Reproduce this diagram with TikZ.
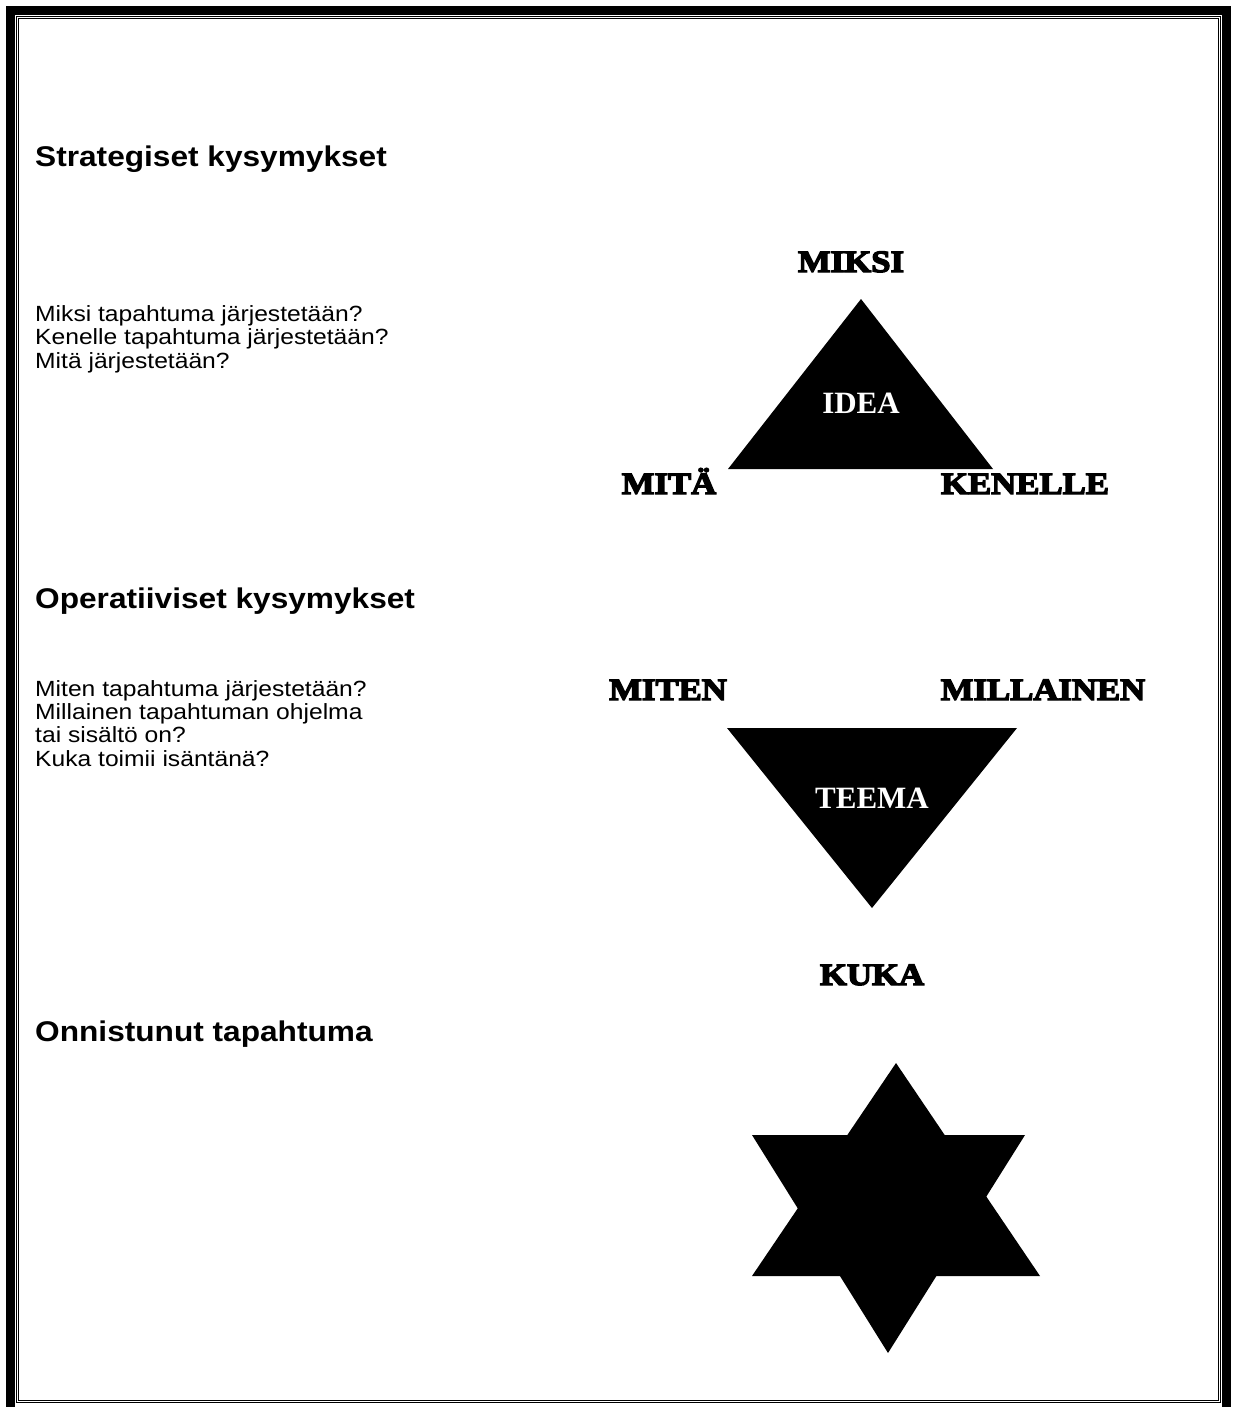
\documentclass[tikz,border=0pt]{standalone}
\usepackage{fontspec}
\setmainfont{Liberation Sans}[FakeStretch=1.11]
\newfontfamily\bodyface{Liberation Sans}[FakeStretch=1.12]
\newfontfamily\fatface{Liberation Serif}[FakeStretch=1.12,BoldFeatures={FakeBold=4.5}]
\newfontfamily\plainserif{Liberation Serif}
\usepackage{tikz}
\usetikzlibrary{positioning}
\tikzset{
  heading/.style={anchor=base west, inner sep=0pt,
    font=\fontsize{28.5}{31}\selectfont\bfseries},
  questions/.style={anchor=base west, inner sep=0pt, align=left,
    font=\fontsize{22}{23.3}\selectfont\bodyface},
  corner/.style={anchor=base, inner sep=0pt,
    font=\fontsize{31}{34}\selectfont\fatface\bfseries},
  core/.style={anchor=base, inner sep=0pt, text=white,
    font=\fontsize{31}{34}\selectfont\plainserif\bfseries},
  shape fill/.style={fill=black},
}
\begin{document}
\begin{tikzpicture}[x=1pt, y=-1pt]
    \useasboundingbox (0,0) rectangle (1237,1407);
    % page border
    \draw[line width=9pt] (10.5,11) rectangle (1226.5,1420);
    \draw[line width=1pt] (16.5,16.5) rectangle (1220.5,1402.5);
    \draw[line width=1pt] (18.5,18.5) rectangle (1218.5,1400.5);

    % left column (questions: anchored at last line)
    \node[heading] (strat) at (35,167) {Strategiset kysymykset};
    \node[questions] (stratq) at (35,368) {Miksi tapahtuma järjestetään?\\
      Kenelle tapahtuma järjestetään?\\ Mitä järjestetään?};
    \node[heading] (oper) at (35,608) {Operatiiviset kysymykset};
    \node[questions] (operq) at (35,766) {Miten tapahtuma järjestetään?\\
      Millainen tapahtuman ohjelma\\ tai sisältö on?\\ Kuka toimii isäntänä?};
    \node[heading] (onni) at (35,1041) {Onnistunut tapahtuma};

    % idea triangle
    \coordinate (ideatop) at (861,299);
    \coordinate (idealeft) at (728,469);
    \coordinate (idearight) at (993,469);
    \fill[shape fill] (ideatop) -- (idearight) -- (idealeft) -- cycle;
    \node[core] (idea) at (861,413) {IDEA};
    \node[corner] (miksi) at (851,272) {MIKSI};
    \node[corner] (mita) at (669,494) {MITÄ};
    \node[corner] (kenelle) at (1025,494) {KENELLE};

    % teema triangle
    \coordinate (teemaleft) at (727,728);
    \coordinate (teemaright) at (1017,728);
    \coordinate (teemabot) at (872,908);
    \fill[shape fill] (teemaleft) -- (teemaright) -- (teemabot) -- cycle;
    \node[core] (teema) at (872,808) {TEEMA};
    \node[corner] (miten) at (668,700) {MITEN};
    \node[corner] (millainen) at (1043,700) {MILLAINEN};
    \node[corner] (kuka) at (872,985) {KUKA};

    % star
    \coordinate (startop) at (896,1063);
    \coordinate (starbl) at (752,1276);
    \coordinate (starbr) at (1040,1276);
    \coordinate (startl) at (752,1135);
    \coordinate (startr) at (1025,1135);
    \coordinate (starbot) at (888,1353);
    \fill[shape fill] (startop) -- (starbr) -- (starbl) -- cycle;
    \fill[shape fill] (startl) -- (startr) -- (starbot) -- cycle;
\end{tikzpicture}
\end{document}
